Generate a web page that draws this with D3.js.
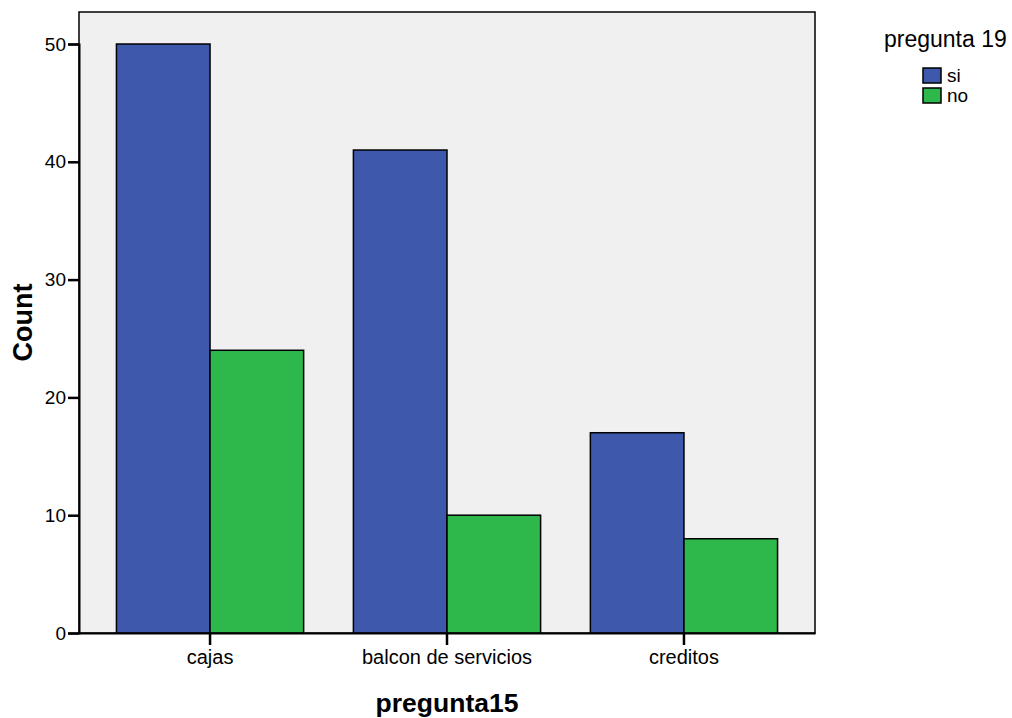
<!DOCTYPE html>
<html>
<head>
<meta charset="utf-8">
<script src="https://cdn.jsdelivr.net/npm/d3@7"></script>
<style>
  body { margin: 0; background: #fff; }
  text { font-family: "Liberation Sans", Arial, sans-serif; fill: #000; }
</style>
</head>
<body>
<div id="chart-area"></div>
<script>
// data
var categories = ["cajas", "balcon de servicios", "creditos"];
var seriesNames = ["si", "no"];
var siValues = [50, 41, 17];
var noValues = [24, 10, 8];
var yTicks = [0, 10, 20, 30, 40, 50];
var colors = ["#3e58ac", "#2eb84b"];

var width = 1012, height = 718;
var margin = {top: 12, right: 197, bottom: 85, left: 79};
var chartWidth = width - margin.left - margin.right;
var chartHeight = height - margin.top - margin.bottom;

var svg = d3.select("#chart-area").append("svg").attr("width", width).attr("height", height);
var graph = svg.append("g").attr("transform", "translate(" + margin.left + "," + margin.top + ")");

var data = categories.map(function(c, i) { return {cat: c, values: [siValues[i], noValues[i]]}; });

var x = d3.scaleBand().domain(categories).range([0, chartWidth]).paddingInner(0.21).paddingOuter(0.158);
var xs = d3.scaleBand().domain(seriesNames).range([0, x.bandwidth()]);
var y = d3.scaleLinear().domain([0, 50]).range([chartHeight, chartHeight - 589]);

graph.append("rect").attr("width", chartWidth).attr("height", chartHeight)
    .attr("fill", "#f0f0f0").attr("stroke", "#000").attr("stroke-width", 1.5);

var groups = graph.selectAll("g.group").data(data).enter().append("g")
    .attr("class", "group").attr("transform", function(d) { return "translate(" + x(d.cat) + ",0)"; });

groups.selectAll("rect").data(function(d) { return d.values.map(function(v, i) { return {s: seriesNames[i], v: v, i: i}; }); })
    .enter().append("rect")
    .attr("x", function(d) { return xs(d.s); })
    .attr("y", function(d) { return y(d.v); })
    .attr("width", xs.bandwidth())
    .attr("height", function(d) { return chartHeight - y(d.v); })
    .attr("fill", function(d) { return colors[d.i]; })
    .attr("stroke", "#000").attr("stroke-width", 1.5);

// axes
var yAxis = d3.axisLeft(y).tickValues(yTicks).tickSize(11).tickPadding(2).tickFormat(d3.format("d"));
var gy = graph.append("g").call(yAxis);
gy.select(".domain").attr("stroke-width", 2);
gy.selectAll(".tick line").attr("stroke-width", 2.5);
gy.selectAll("text").attr("font-size", "19px").attr("font-family", "Liberation Sans, Arial, sans-serif");

var xAxis = d3.axisBottom(x).tickSize(12).tickPadding(5).tickSizeOuter(0);
var gx = graph.append("g").attr("transform", "translate(0," + chartHeight + ")").call(xAxis);
gx.selectAll(".tick").attr("transform", function(d) { return "translate(" + (x(d) + x.bandwidth() / 2) + ",0)"; });
gx.select(".domain").attr("stroke-width", 2);
gx.selectAll(".tick line").attr("stroke-width", 2.5);
gx.selectAll("text").attr("font-size", "20px").attr("font-family", "Liberation Sans, Arial, sans-serif");

// axis labels
svg.append("text").attr("x", margin.left + chartWidth / 2).attr("y", 712)
    .attr("text-anchor", "middle").attr("font-size", "26.5px").attr("font-weight", "bold").text("pregunta15");
svg.append("text").attr("transform", "translate(32," + (margin.top + chartHeight / 2) + ") rotate(-90)")
    .attr("text-anchor", "middle").attr("font-size", "27px").attr("font-weight", "bold").text("Count");

// legend
var legend = svg.append("g").attr("transform", "translate(884,0)");
legend.append("text").attr("x", 0).attr("y", 47).attr("font-size", "23px").text("pregunta 19");
seriesNames.forEach(function(s, i) {
    legend.append("rect").attr("x", 39).attr("y", 68 + i * 20).attr("width", 18).attr("height", 15)
        .attr("fill", colors[i]).attr("stroke", "#000").attr("stroke-width", 1.5);
    legend.append("text").attr("x", 63).attr("y", 82 + i * 20).attr("font-size", "19px").text(s);
});
</script>
</body>
</html>
